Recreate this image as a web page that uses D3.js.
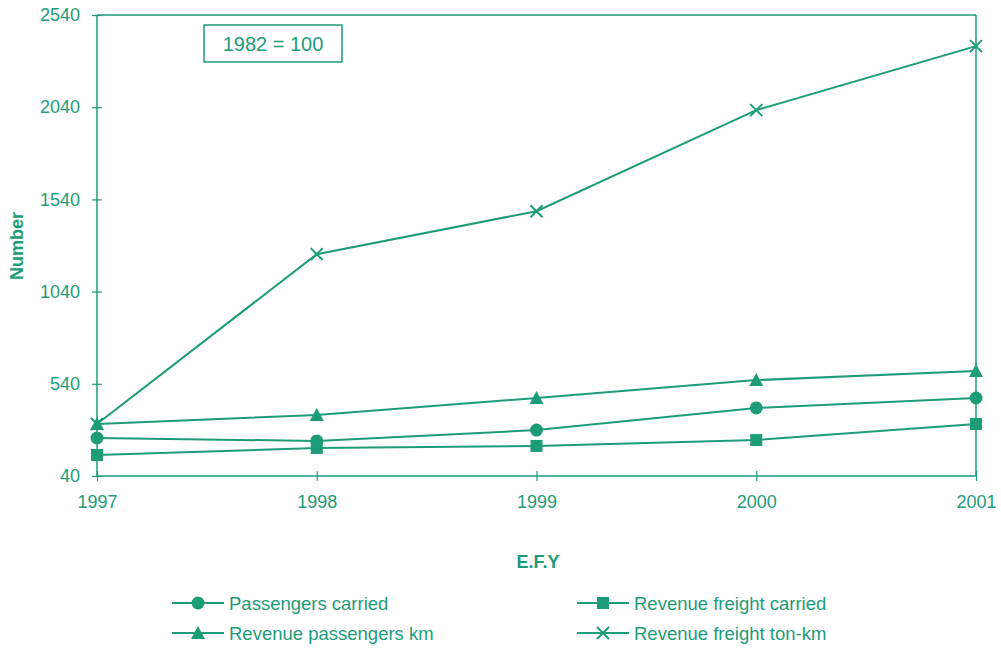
<!DOCTYPE html>
<html><head><meta charset="utf-8">
<script src="https://cdn.jsdelivr.net/npm/d3@7"></script>
<style>body{margin:0;background:#fff}svg{display:block}</style>
</head><body><svg id="c" width="1001" height="650"></svg>
<script>
const years = [1997, 1998, 1999, 2000, 2001];
const yTicks = [40, 540, 1040, 1540, 2040, 2540];
const passengersCarried = [246, 230, 289, 409, 463];
const revenueFreightCarried = [154, 192, 203, 235, 322];
const revenuePassengersKm = [322, 371, 463, 560, 609];
const revenueFreightTonKm = [322, 1243, 1476, 2024, 2371];
const seriesNames = ["Passengers carried", "Revenue freight carried", "Revenue passengers km", "Revenue freight ton-km"];
const seriesData = [passengersCarried, revenueFreightCarried, revenuePassengersKm, revenueFreightTonKm];
const seriesMarkers = ["circle", "square", "triangle", "cross"];

const C = "#1d9c78";
const font = "Arial, 'Liberation Sans', sans-serif";
const svg = d3.select("#c");
const L = 97, R = 976, T = 15, B = 476;
const x = d3.scalePoint().domain(years).range([L, R]);
const y = d3.scaleLinear().domain([40, 2540]).range([B, T]);

// frame
svg.append("line").attr("x1", L).attr("x2", R).attr("y1", T).attr("y2", T).attr("stroke", C).attr("stroke-width", 1.5);
svg.append("line").attr("x1", R).attr("x2", R).attr("y1", T).attr("y2", B).attr("stroke", C).attr("stroke-width", 1.5);

const yAxis = svg.append("g").attr("transform", `translate(${L},0)`)
  .call(d3.axisLeft(y).tickValues(yTicks).tickFormat(d3.format("d")).tickSize(5).tickPadding(12));
yAxis.selectAll(".tick line").attr("x2", 5).attr("x1", -5);
const xAxis = svg.append("g").attr("transform", `translate(0,${B})`)
  .call(d3.axisBottom(x).tickFormat(d3.format("d")).tickSize(5).tickPadding(14));
xAxis.selectAll(".tick line").attr("y1", -5).attr("y2", 5);
[yAxis, xAxis].forEach(a => {
  a.select(".domain").attr("stroke", C).attr("stroke-width", 1.5);
  a.selectAll(".tick line").attr("stroke", C).attr("stroke-width", 1.2);
  a.selectAll(".tick text").attr("fill", C).attr("font-family", font).attr("font-size", 18);
});
xAxis.select(".domain").attr("d", `M${L},0H${R}`);
yAxis.select(".domain").attr("d", `M0,${B}V${T}`);

svg.append("text").attr("transform", "translate(23,246) rotate(-90)").attr("text-anchor", "middle")
  .attr("fill", C).attr("font-family", font).attr("font-weight", "bold").attr("font-size", 18).text("Number");
svg.append("text").attr("x", 538).attr("y", 568).attr("text-anchor", "middle")
  .attr("fill", C).attr("font-family", font).attr("font-weight", "bold").attr("font-size", 18).text("E.F.Y");

// note box
svg.append("rect").attr("x", 204).attr("y", 25).attr("width", 138).attr("height", 37)
  .attr("fill", "none").attr("stroke", C).attr("stroke-width", 1.5);
svg.append("text").attr("x", 273).attr("y", 51).attr("text-anchor", "middle")
  .attr("fill", C).attr("font-family", font).attr("font-size", 20).text("1982 = 100");

function marker(g, type, cx, cy) {
  if (type === "circle") g.append("circle").attr("cx", cx).attr("cy", cy).attr("r", 6.5).attr("fill", C);
  else if (type === "square") g.append("rect").attr("x", cx - 6).attr("y", cy - 6).attr("width", 12).attr("height", 12).attr("fill", C);
  else if (type === "triangle") g.append("path").attr("d", `M${cx},${cy - 7}L${cx + 7},${cy + 6}L${cx - 7},${cy + 6}Z`).attr("fill", C);
  else g.append("path").attr("d", `M${cx - 6},${cy - 6}L${cx + 6},${cy + 6}M${cx - 6},${cy + 6}L${cx + 6},${cy - 6}`).attr("stroke", C).attr("stroke-width", 2);
}

const line = d3.line().x((d, i) => x(years[i])).y(d => y(d));
seriesData.forEach((vals, s) => {
  const g = svg.append("g");
  g.append("path").attr("d", line(vals)).attr("fill", "none").attr("stroke", C).attr("stroke-width", 2);
  vals.forEach((v, i) => marker(g, seriesMarkers[s], x(years[i]), y(v)));
});

// legend
const legPos = [[172, 603], [577, 603], [172, 633], [577, 633]];
seriesNames.forEach((n, s) => {
  const [lx, ly] = legPos[s];
  const g = svg.append("g");
  g.append("line").attr("x1", lx).attr("x2", lx + 52).attr("y1", ly).attr("y2", ly).attr("stroke", C).attr("stroke-width", 2);
  marker(g, seriesMarkers[s], lx + 26, ly);
  g.append("text").attr("x", lx + 57).attr("y", ly + 7).attr("fill", C).attr("font-family", font).attr("font-size", 18.5).text(n);
});
</script></body></html>
